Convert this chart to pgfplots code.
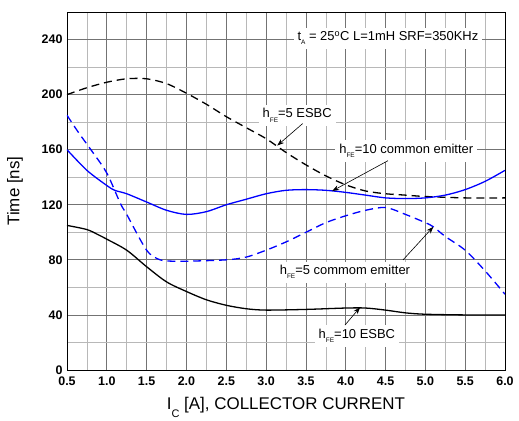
\documentclass[border=0pt]{standalone}
\usepackage{fontspec}
\setmainfont{Liberation Sans}
\usepackage{pgfplots}
\pgfplotsset{compat=1.18}
\usetikzlibrary{arrows.meta}
\newcommand{\sub}[1]{\raisebox{-0.6ex}{\fontsize{6.5}{6.5}\selectfont #1}}
\begin{document}
\begin{tikzpicture}
\useasboundingbox (-67bp,-51bp) rectangle (452bp,370bp);
\begin{axis}[
 scale only axis, width=438bp, height=358bp,
 xmin=0.5, xmax=6.0, ymin=0, ymax=260,
 xtick={0.5,1,1.5,2,2.5,3,3.5,4,4.5,5,5.5,6},
 ytick={0,40,80,120,160,200,240},
 minor x tick num=1, minor y tick num=1,
 grid=both,
 major grid style={black!55, line width=0.8pt},
 minor grid style={black!28, line width=0.6pt},
 axis line style={black, line width=0.9pt},
 major tick style={draw=none}, minor tick style={draw=none},
 /pgf/number format/assume math mode=true,
 xticklabel style={/pgf/number format/fixed, /pgf/number format/fixed zerofill, /pgf/number format/precision=1, font=\fontsize{12.5}{13}\selectfont\bfseries, yshift=-3bp},
 yticklabel style={font=\fontsize{12.5}{13}\selectfont\bfseries, xshift=-1bp},
 xlabel={I\raisebox{-0.9ex}{\fontsize{11}{11}\selectfont C} [A], COLLECTOR CURRENT},
 ylabel={Time [ns]},
 label style={font=\fontsize{17}{18}\selectfont},
 xlabel style={yshift=-5bp},
 ylabel style={yshift=12bp},
 every axis plot/.append style={line width=1.3pt, smooth},
]
% hFE=5 ESBC (black dashed)
\addplot[black, dash pattern=on 8pt off 5pt] coordinates {
(0.5,200)(0.75,205)(1.0,209)(1.25,211.5)(1.5,211.5)(1.75,208)(2.0,201)(2.25,193)(2.5,184)(2.75,176)(3.0,168)(3.25,158)(3.5,149)(3.75,141)(4.0,134.5)(4.25,130)(4.5,128)(4.75,127)(5.0,126)(5.5,125)(6.0,125)};
% hFE=10 common emitter (blue solid)
\addplot[blue] coordinates {
(0.5,160)(0.75,145)(1.0,134)(1.1,130.5)(1.25,128)(1.5,122)(1.75,116)(2.0,113)(2.25,115)(2.5,120)(2.75,124)(3.0,128)(3.25,130.5)(3.5,131)(3.75,130.5)(4.0,129)(4.25,127)(4.5,125)(4.75,124.5)(5.0,125)(5.25,127)(5.5,131)(5.75,137)(6.0,145)};
% hFE=5 common emitter (blue dashed)
\addplot[blue, dash pattern=on 8pt off 5pt] coordinates {
(0.5,185)(0.65,172)(0.8,160)(1.0,143)(1.17,121)(1.25,113)(1.5,87)(1.67,80)(1.85,79)(2.0,79)(2.5,80)(2.75,82)(3.0,87)(3.25,93)(3.5,100)(3.75,107)(4.0,112)(4.25,116)(4.5,118)(4.75,113)(5.0,107)(5.1,104)(5.25,97)(5.5,87)(5.75,72)(6.0,55)};
% hFE=10 ESBC (black solid)
\addplot[black] coordinates {
(0.5,105)(0.75,102)(0.9,98)(1.0,95)(1.25,87)(1.5,75)(1.75,64)(2.0,57)(2.25,51)(2.5,47)(2.75,44.5)(3.0,43.5)(3.5,44)(4.0,45)(4.25,45)(4.5,43.5)(4.75,41.5)(5.0,40.5)(5.5,40)(6.0,40)};

\tikzset{lbl/.style={fill=white, inner xsep=4pt, inner ysep=4pt, font=\fontsize{13}{14}\selectfont},
 arr/.style={-{Stealth[length=7pt,width=5pt]}, line width=0.6pt}}
\node[lbl] at (axis cs:4.53,241) {t\sub{A} = 25\textsuperscript{o}C L=1mH SRF=350KHz};
\node[lbl] at (axis cs:3.39,185) {h\sub{FE}=5 ESBC};
\node[lbl] at (axis cs:4.76,159) {h\sub{FE}=10 common emitter};
\node[lbl] at (axis cs:3.99,71) {h\sub{FE}=5 commom emitter};
\node[lbl] at (axis cs:4.14,24.6) {h\sub{FE}=10 ESBC};
\draw[arr] (axis cs:3.46,179) -- (axis cs:3.14,163);
\draw[arr] (axis cs:4.53,152) -- (axis cs:3.83,130);
\draw[arr] (axis cs:4.72,80) -- (axis cs:5.10,104);
\draw[arr] (axis cs:3.99,32.6) -- (axis cs:4.18,45.5);
\end{axis}
\end{tikzpicture}
\end{document}
